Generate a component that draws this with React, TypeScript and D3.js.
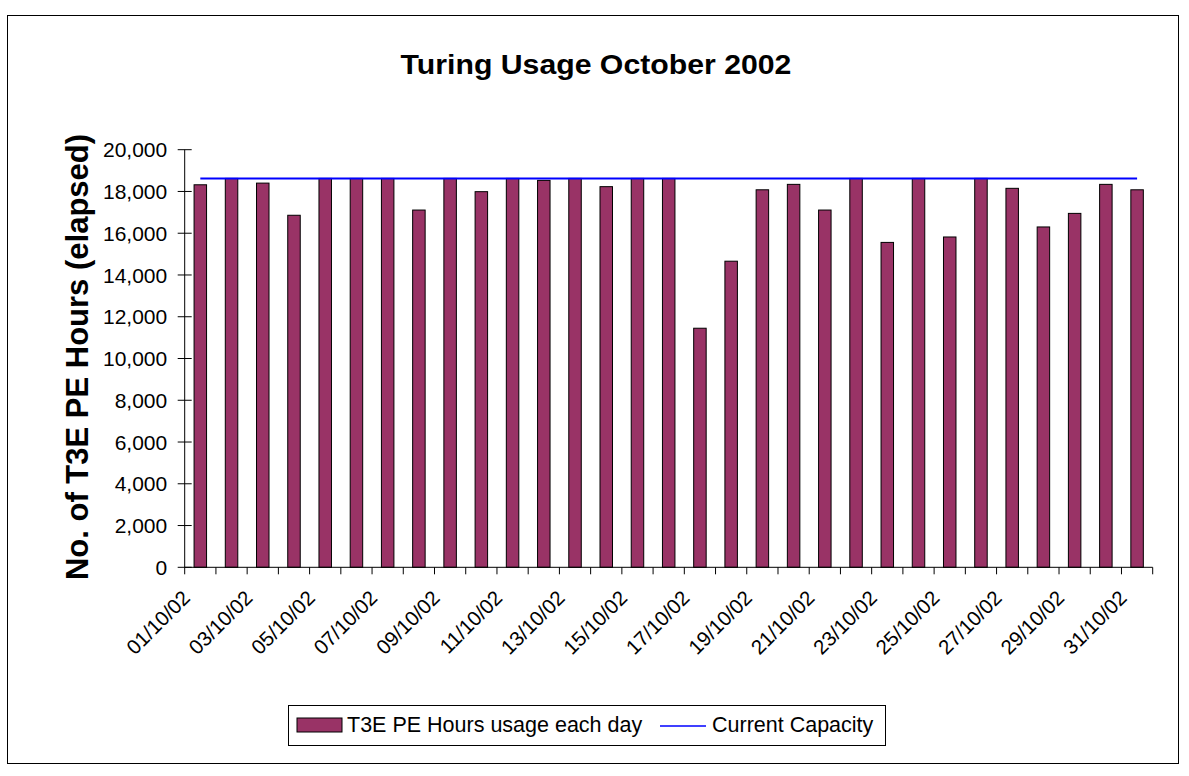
import React from "react";
import * as d3 from "d3";

const days = [
  "01/10/02","02/10/02","03/10/02","04/10/02","05/10/02","06/10/02","07/10/02","08/10/02",
  "09/10/02","10/10/02","11/10/02","12/10/02","13/10/02","14/10/02","15/10/02","16/10/02",
  "17/10/02","18/10/02","19/10/02","20/10/02","21/10/02","22/10/02","23/10/02","24/10/02",
  "25/10/02","26/10/02","27/10/02","28/10/02","29/10/02","30/10/02","31/10/02",
];
const usage = [
  18320, 18624, 18400, 16860, 18624, 18624, 18624, 17110,
  18624, 17990, 18624, 18530, 18624, 18230, 18624, 18624,
  11450, 14660, 18080, 18340, 17110, 18624, 15560, 18624,
  15820, 18624, 18150, 16300, 16950, 18340, 18080,
];
const capacity = days.map(() => 18624);
const yTicks = [0, 2000, 4000, 6000, 8000, 10000, 12000, 14000, 16000, 18000, 20000];

const W = 1189, H = 776;
const FONT = "Liberation Sans, Arial, sans-serif";

export default function App() {
  const left = 184.7, right = 1152.7, top = 149.7, bottom = 567.3;
  const x = d3.scaleBand<string>().domain(days).range([left, right]).paddingInner(0.6).paddingOuter(0.3);
  const y = d3.scaleLinear().domain([0, 20000]).range([bottom, top]);
  const step = x.step();
  const fmt = d3.format(",");
  const line = d3.line<number>()
    .x((_, i) => (x(days[i]) as number) + x.bandwidth() / 2)
    .y((d) => y(d));
  const boundaries = d3.range(days.length + 1).map((i) => left + i * step);

  return (
    <svg width={W} height={H} style={{ position: "absolute", left: 0, top: 0, background: "#fff" }}>
      <rect x={7.5} y={15.5} width={1171} height={748} fill="#fff" stroke="#000" strokeWidth={1} />
      <text transform="translate(596,74) scale(1.12,1)" textAnchor="middle" fontFamily={FONT} fontWeight="bold" fontSize={27}>
        Turing Usage October 2002
      </text>
      <text transform={`translate(88,357) rotate(-90)`} textAnchor="middle" fontFamily={FONT} fontWeight="bold" fontSize={31}>
        No. of T3E PE Hours (elapsed)
      </text>
      {/* bars */}
      {usage.map((v, i) => (
        <rect key={i} x={(x(days[i]) as number)} y={y(v)} width={x.bandwidth()} height={bottom - y(v)}
          fill="#993366" stroke="#000" strokeWidth={1} />
      ))}
      {/* capacity line */}
      <path d={line(capacity) || ""} fill="none" stroke="#0000ff" strokeWidth={2} />
      {/* y axis */}
      <line x1={left} x2={left} y1={top} y2={bottom} stroke="#000" />
      {yTicks.map((t) => (
        <g key={t}>
          <line x1={left - 7} x2={left + 7} y1={y(t)} y2={y(t)} stroke="#000" />
          <text x={left - 17.5} y={y(t)} dy="0.36em" textAnchor="end" fontFamily={FONT} fontSize={21}>
            {fmt(t)}
          </text>
        </g>
      ))}
      {/* x axis */}
      <line x1={left} x2={right} y1={bottom} y2={bottom} stroke="#000" />
      {boundaries.map((b, i) => (
        <line key={i} x1={b} x2={b} y1={bottom} y2={bottom + 7} stroke="#000" />
      ))}
      {days.map((d, i) =>
        i % 2 === 0 ? (
          <text key={d} transform={`translate(${(x(d) as number) + x.bandwidth() / 2 - 9},${bottom + 32}) rotate(-45)`}
            textAnchor="end" fontFamily={FONT} fontSize={20.5}>
            {d}
          </text>
        ) : null
      )}
      {/* legend */}
      <rect x={288.5} y={705.5} width={597} height={40} fill="#fff" stroke="#000" />
      <rect x={297} y={718} width={45} height={14} fill="#993366" stroke="#000" />
      <text x={347} y={732} fontFamily={FONT} fontSize={21.5}>T3E PE Hours usage each day</text>
      <line x1={660} x2={706} y1={726} y2={726} stroke="#0000ff" strokeWidth={1.5} />
      <text x={712} y={732} fontFamily={FONT} fontSize={21.5}>Current Capacity</text>
    </svg>
  );
}
